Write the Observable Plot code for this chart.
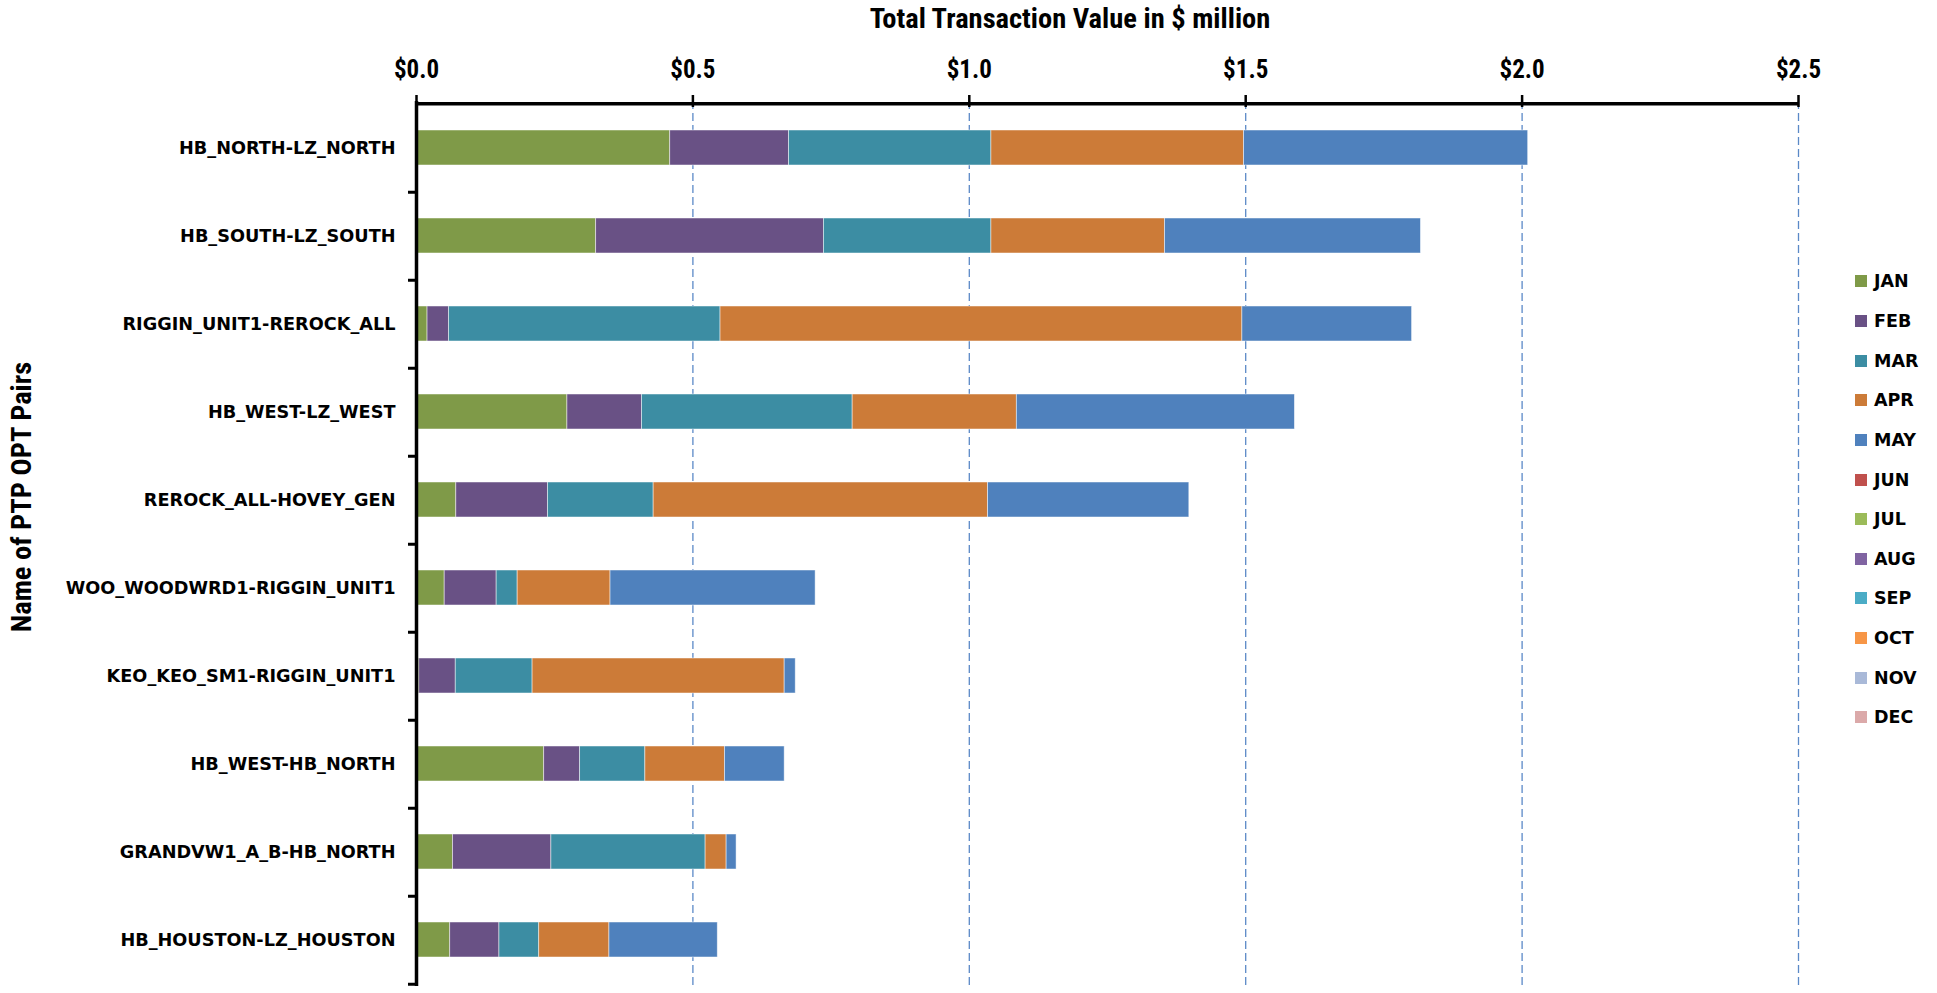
<!DOCTYPE html>
<html>
<head>
<meta charset="utf-8">
<script src="https://cdn.jsdelivr.net/npm/d3@7"></script>
<script src="https://cdn.jsdelivr.net/npm/@observablehq/plot@0.6"></script>
<style>
  html, body { margin: 0; padding: 0; background: #ffffff; }
  #wrap { position: relative; width: 1937px; height: 993px; overflow: hidden; background: #fff; }
  #chart { position: absolute; left: 0; top: 0; }
  .narrow { font-family: "Liberation Sans Narrow", "Roboto Condensed", "Liberation Sans", Arial, sans-serif; font-weight: bold; color: #000; }
  #title { position: absolute; top: 18.5px; left: 1070px; transform: translate(-50%, -50%); font-size: 28.5px; line-height: 30px; white-space: nowrap; }
  #ylabel { position: absolute; left: 22px; top: 497px; transform: translate(-50%, -50%) rotate(-90deg); font-size: 28.5px; line-height: 30px; white-space: nowrap; }
  #legend { position: absolute; left: 1855px; top: 261.5px; font-family: "DejaVu Sans", Verdana, sans-serif; font-weight: bold; font-size: 17.5px; color: #000; }
  .lrow { display: flex; align-items: center; height: 39.65px; }
  .sw { width: 12px; height: 12px; margin-right: 7px; flex: none; }
</style>
</head>
<body>
<div id="wrap">
  <div id="chart"></div>
  <div id="title" class="narrow">Total Transaction Value in $ million</div>
  <div id="ylabel" class="narrow">Name of PTP OPT Pairs</div>
  <div id="legend"></div>
</div>
<script>
// ---- data ----
const pairs = [
  "HB_NORTH-LZ_NORTH",
  "HB_SOUTH-LZ_SOUTH",
  "RIGGIN_UNIT1-REROCK_ALL",
  "HB_WEST-LZ_WEST",
  "REROCK_ALL-HOVEY_GEN",
  "WOO_WOODWRD1-RIGGIN_UNIT1",
  "KEO_KEO_SM1-RIGGIN_UNIT1",
  "HB_WEST-HB_NORTH",
  "GRANDVW1_A_B-HB_NORTH",
  "HB_HOUSTON-LZ_HOUSTON"
];
const months = ["JAN","FEB","MAR","APR","MAY","JUN","JUL","AUG","SEP","OCT","NOV","DEC"];
const monthColors = ["#7F9A48","#695185","#3C8DA3","#CC7B38","#4F81BD","#C0504D","#9BBB59","#8064A2","#4BACC6","#F79646","#A9B9D8","#DBA9A9"];

// values in $ million, one array per month, in the order of `pairs`
const jan = [0.459, 0.325, 0.020, 0.273, 0.072, 0.051, 0.005, 0.231, 0.066, 0.061];
const feb = [0.215, 0.412, 0.039, 0.135, 0.166, 0.094, 0.066, 0.065, 0.178, 0.089];
const mar = [0.366, 0.303, 0.491, 0.381, 0.191, 0.038, 0.139, 0.118, 0.279, 0.072];
const apr = [0.457, 0.314, 0.944, 0.297, 0.605, 0.168, 0.456, 0.144, 0.038, 0.127];
const may = [0.514, 0.463, 0.307, 0.503, 0.364, 0.371, 0.020, 0.108, 0.018, 0.196];
const jun = [0, 0, 0, 0, 0, 0, 0, 0, 0, 0];
const jul = [0, 0, 0, 0, 0, 0, 0, 0, 0, 0];
const aug = [0, 0, 0, 0, 0, 0, 0, 0, 0, 0];
const sep = [0, 0, 0, 0, 0, 0, 0, 0, 0, 0];
const oct = [0, 0, 0, 0, 0, 0, 0, 0, 0, 0];
const nov = [0, 0, 0, 0, 0, 0, 0, 0, 0, 0];
const dec = [0, 0, 0, 0, 0, 0, 0, 0, 0, 0];

const xTicks = [0, 0.5, 1.0, 1.5, 2.0, 2.5];

// ---- build long table ----
const series = [jan, feb, mar, apr, may, jun, jul, aug, sep, oct, nov, dec];
const rows = [];
series.forEach((vals, mi) => {
  vals.forEach((v, pi) => {
    if (v > 0) rows.push({pair: pairs[pi], month: months[mi], value: v});
  });
});

const mL = 416, mR = 139, mT = 101, mB = 7, H = 993;
const step = (H - mT - mB) / pairs.length;
const labelFont = '"DejaVu Sans", Verdana, sans-serif';
const narrowFont = '"Liberation Sans Narrow", "Roboto Condensed", "Liberation Sans", Arial, sans-serif';

const chart = Plot.plot({
  width: 1937,
  height: H,
  marginLeft: mL,
  marginRight: mR,
  marginTop: mT,
  marginBottom: mB,
  style: {background: "white", color: "#000", overflow: "visible"},
  x: {domain: [0, 2.5]},
  y: {domain: pairs, paddingInner: 0.6, paddingOuter: 0.3},
  color: {domain: months, range: monthColors},
  marks: [
    Plot.ruleX(xTicks.slice(1), {stroke: "#5B89C7", strokeWidth: 1.3, strokeDasharray: "8,4"}),
    Plot.barX(rows, {x: "value", y: "pair", fill: "month", stroke: "#ffffff", strokeWidth: 0.8, strokeOpacity: 0.6}),
    Plot.axisX({
      anchor: "top", ticks: xTicks, tickFormat: d => "$" + d.toFixed(1),
      tickSize: 7, tickPadding: 17, strokeWidth: 2.5,
      fontSize: 25, fontWeight: "bold", fontFamily: narrowFont, label: null
    }),
    Plot.axisX({
      anchor: "top", ticks: xTicks, text: null, tickSize: 5, strokeWidth: 2.5, dy: 5, label: null
    }),
    Plot.axisY({
      anchor: "left", tickSize: 0, tickPadding: 21,
      fontSize: 17.7, fontWeight: "bold", fontFamily: labelFont, label: null
    }),
    Plot.axisY({
      anchor: "left", text: null, tickSize: 8, strokeWidth: 3, dy: step / 2, label: null
    }),
    Plot.ruleX([0], {stroke: "#000", strokeWidth: 3.5}),
    Plot.ruleY([pairs[0]], {y: d => d, dy: -step / 2, stroke: "#000", strokeWidth: 3.5})
  ]
});
document.getElementById("chart").appendChild(chart);

// ---- legend ----
const legend = document.getElementById("legend");
months.forEach((m, i) => {
  const row = document.createElement("div");
  row.className = "lrow";
  const sw = document.createElement("span");
  sw.className = "sw";
  sw.style.background = monthColors[i];
  const t = document.createElement("span");
  t.textContent = m;
  row.appendChild(sw);
  row.appendChild(t);
  legend.appendChild(row);
});
</script>
</body>
</html>
